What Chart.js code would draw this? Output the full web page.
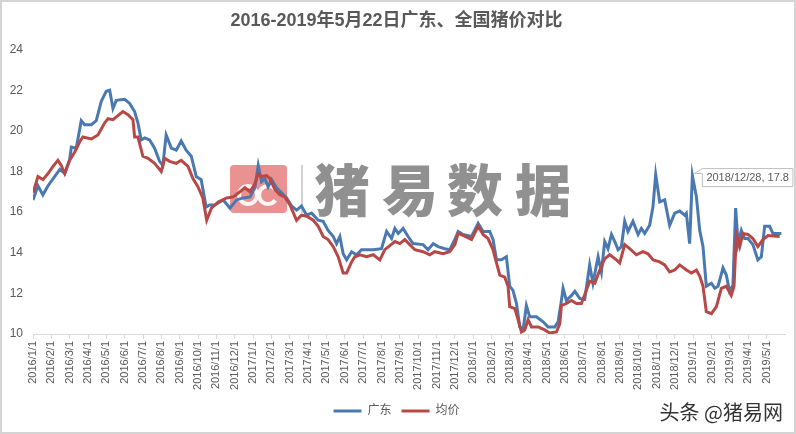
<!DOCTYPE html>
<html>
<head>
<meta charset="utf-8">
<script src="https://cdn.jsdelivr.net/npm/chart.js@4"></script>
<style>
	html, body { margin: 0; padding: 0; background: #ffffff; }
	#wrap { width: 796px; height: 434px; }
</style>
</head>
<body>
<div id="wrap"><canvas id="chart" width="796" height="434"></canvas></div>
<script>
// months counted from 2016/1/1 (0 = 2016/1/1, 12 = 2017/1/1 ...)
const gdMonths = [0.00, 0.27, 0.54, 0.82, 1.18, 1.46, 1.73, 2.00, 2.09, 2.36, 2.63, 2.82, 3.18, 3.45, 3.72, 3.99, 4.18, 4.36, 4.54, 5.00,
	5.27, 5.54, 5.72, 5.90, 6.09, 6.36, 6.63, 6.90, 7.08, 7.26, 7.54, 7.81, 8.08, 8.35, 8.63, 8.90, 9.17, 9.44, 9.63, 9.92,
	10.37, 10.74, 11.10, 11.46, 11.83, 12.10, 12.28, 12.46, 12.64, 12.82, 13.01, 13.28, 13.55, 13.83, 14.10, 14.37, 14.64, 14.92, 15.19, 15.55,
	15.82, 16.09, 16.37, 16.55, 16.73, 16.91, 17.10, 17.37, 17.64, 17.91, 18.55, 19.00, 19.28, 19.55, 19.73, 19.91, 20.18, 20.45, 20.72, 21.27,
	21.54, 21.82, 22.09, 22.45, 22.72, 23.00, 23.18, 23.45, 23.91, 24.27, 24.54, 24.90, 25.08, 25.27, 25.54, 25.81, 25.99, 26.17, 26.36, 26.54,
	26.72, 26.90, 27.08, 27.45, 27.81, 28.08, 28.45, 28.63, 28.81, 28.90, 29.08, 29.36, 29.54, 29.81, 30.08, 30.35, 30.53, 30.81, 30.99, 31.17,
	31.35, 31.54, 31.72, 31.90, 32.08, 32.26, 32.44, 32.71, 32.99, 33.17, 33.35, 33.62, 33.80, 33.95, 34.17, 34.44, 34.71, 34.99, 35.26, 35.53,
	35.62, 35.80, 35.95, 36.17, 36.35, 36.53, 36.71, 36.99, 37.17, 37.35, 37.62, 37.80, 37.98, 38.16, 38.31, 38.44, 38.62, 38.80, 38.98, 39.25,
	39.52, 39.71, 39.89, 40.16, 40.34, 40.80];
const gdPrices = [16.6, 17.3, 16.85, 17.3, 17.75, 18.1, 17.9, 18.6, 19.2, 19.15, 20.5, 20.3, 20.3, 20.5, 21.45, 21.95, 22.0, 21.1, 21.5, 21.55,
	21.35, 20.95, 20.4, 19.55, 19.65, 19.55, 19.15, 18.5, 18.3, 19.8, 19.15, 19.05, 19.5, 19.05, 18.75, 17.75, 17.6, 16.25, 16.35, 16.35,
	16.6, 16.2, 16.6, 16.7, 16.75, 17.2, 18.3, 17.5, 17.65, 17.25, 17.6, 17.2, 16.95, 16.7, 16.3, 16.1, 16.3, 15.85, 15.95, 15.6,
	15.55, 15.1, 14.8, 14.45, 14.8, 13.95, 13.65, 14.05, 13.9, 14.15, 14.15, 14.2, 15.05, 14.7, 15.2, 14.95, 15.2, 14.8, 14.45, 14.4,
	14.15, 14.45, 14.3, 14.2, 14.15, 14.65, 15.05, 14.9, 14.8, 15.45, 15.05, 15.05, 14.65, 13.65, 13.65, 13.8, 12.35, 12.15, 11.5, 10.35,
	10.2, 11.4, 10.85, 10.85, 10.6, 10.35, 10.35, 10.6, 11.65, 12.25, 11.65, 11.9, 12.1, 11.75, 11.7, 13.4, 12.5, 13.8, 13.05, 14.55,
	14.2, 14.9, 14.55, 14.15, 14.3, 15.55, 15.05, 15.55, 14.9, 15.2, 14.95, 15.35, 16.25, 17.85, 16.5, 16.6, 15.35, 15.95, 16.05, 15.85,
	15.95, 14.45, 17.8, 16.75, 15.1, 14.3, 12.35, 12.5, 12.25, 12.35, 13.25, 12.9, 12.1, 12.4, 16.2, 14.45, 15.1, 14.7, 14.7, 14.4,
	13.65, 13.8, 15.3, 15.3, 14.95, 14.95];

const avgMonths = [0.00, 0.27, 0.54, 0.82, 1.09, 1.36, 1.54, 1.73, 2.00, 2.27, 2.54, 2.72, 3.18, 3.54, 3.91, 4.09, 4.36, 4.63, 4.90, 5.18,
	5.45, 5.54, 5.72, 5.99, 6.27, 6.63, 6.99, 7.18, 7.45, 7.81, 8.08, 8.45, 8.72, 8.99, 9.26, 9.47, 9.73, 10.10, 10.56, 10.92,
	11.28, 11.55, 11.83, 12.10, 12.28, 12.46, 12.74, 12.92, 13.19, 13.46, 13.73, 14.01, 14.37, 14.64, 14.92, 15.28, 15.55, 15.82, 16.09, 16.37,
	16.64, 16.91, 17.10, 17.37, 17.55, 17.82, 18.19, 18.55, 18.91, 19.18, 19.46, 19.73, 20.00, 20.27, 20.54, 20.82, 21.27, 21.63, 21.91, 22.36,
	22.72, 23.00, 23.18, 23.45, 23.91, 24.27, 24.54, 24.81, 25.08, 25.27, 25.45, 25.72, 25.90, 25.99, 26.27, 26.45, 26.63, 26.81, 26.99, 27.18,
	27.54, 27.90, 28.17, 28.54, 28.72, 28.81, 29.08, 29.36, 29.63, 29.90, 30.17, 30.35, 30.63, 30.90, 31.17, 31.44, 31.81, 31.99, 32.26, 32.53,
	32.90, 33.26, 33.53, 33.81, 34.17, 34.44, 34.71, 34.99, 35.26, 35.62, 35.90, 36.17, 36.35, 36.53, 36.71, 36.99, 37.26, 37.53, 37.80, 38.07,
	38.22, 38.35, 38.53, 38.71, 38.98, 39.25, 39.52, 39.80, 40.07, 40.71];
const avgPrices = [16.95, 17.75, 17.6, 17.9, 18.25, 18.55, 18.3, 17.9, 18.55, 18.95, 19.45, 19.7, 19.6, 19.8, 20.4, 20.6, 20.55, 20.75, 20.95, 20.8,
	20.55, 19.7, 19.7, 18.75, 18.65, 18.4, 18.0, 18.65, 18.5, 18.4, 18.55, 18.25, 17.65, 17.25, 16.7, 15.6, 16.2, 16.5, 16.7, 16.75,
	17.0, 17.2, 17.0, 17.4, 17.9, 17.75, 17.8, 17.65, 17.1, 16.85, 16.75, 16.35, 15.6, 15.85, 15.8, 15.6, 15.3, 14.8, 14.65, 14.3,
	13.8, 13.0, 13.0, 13.55, 13.8, 13.9, 13.8, 13.9, 13.65, 14.15, 14.35, 14.55, 14.45, 14.65, 14.4, 14.15, 14.05, 13.9, 14.05, 13.95,
	14.05, 14.4, 14.95, 14.85, 14.65, 15.3, 14.9, 14.7, 14.15, 13.5, 12.9, 12.8, 12.35, 11.35, 11.25, 10.7, 10.1, 10.2, 10.7, 10.35,
	10.35, 10.2, 10.05, 10.1, 10.5, 11.4, 11.5, 11.65, 11.5, 11.5, 12.15, 12.6, 12.5, 13.15, 13.7, 13.9, 13.65, 13.5, 14.4, 14.2,
	13.9, 14.05, 13.95, 13.65, 13.55, 13.4, 13.05, 13.15, 13.4, 13.15, 13.0, 13.15, 12.85, 12.35, 11.1, 11.0, 11.35, 12.25, 12.35, 11.9,
	12.35, 14.9, 14.3, 14.95, 14.9, 14.7, 14.3, 14.65, 14.85, 14.8];

const seriesNames = ['广东', '均价'];
const yTicks = [10, 12, 14, 16, 18, 20, 22, 24];
const monthTicks = [];
for (let i = 0; i <= 40; i++)
{
	monthTicks.push(i);
}
const calloutMonth = 35.95;
const calloutValue = 17.8;
const calloutText = '2018/12/28, 17.8';

const blue = '#4a78b0';
const red = '#b84845';
const textGray = '#595959';
const fontFamily = '"Liberation Sans", Arial, "Noto Sans CJK SC", sans-serif';

function toPoints(xs, ys)
{
	return xs.map((x, i) => ({x: x, y: ys[i]}));
}

function monthLabel(value)
{
	const year = 2016 + Math.floor(value / 12);
	const month = value % 12 + 1;
	return year + '/' + month + '/1';
}

// watermark behind the lines, callout box and signature on top
const decorations = {
	id: 'decorations',
	beforeDatasetsDraw(chart) {
		const ctx = chart.ctx;
		ctx.save();
		ctx.fillStyle = 'rgba(226, 104, 104, 0.72)';
		ctx.beginPath();
		ctx.roundRect(230, 165, 57, 48, 4);
		ctx.fill();
		ctx.strokeStyle = 'rgba(255, 255, 255, 0.9)';
		ctx.lineWidth = 4;
		ctx.beginPath();
		ctx.arc(248, 195, 9, 0, Math.PI * 2);
		ctx.stroke();
		ctx.beginPath();
		ctx.arc(268, 195, 9, Math.PI * 0.2, Math.PI * 1.8);
		ctx.stroke();
		ctx.strokeStyle = 'rgba(150, 150, 150, 0.6)';
		ctx.lineWidth = 1.5;
		ctx.beginPath();
		ctx.moveTo(302, 165);
		ctx.lineTo(302, 213);
		ctx.stroke();
		ctx.fillStyle = 'rgba(125, 125, 125, 0.85)';
		ctx.font = '900 56px "Noto Sans CJK SC", sans-serif';
		ctx.textAlign = 'center';
		ctx.textBaseline = 'middle';
		const chars = ['猪', '易', '数', '据'];
		const centers = [342, 410, 475, 543];
		chars.forEach((c, i) => ctx.fillText(c, centers[i], 190));
		ctx.restore();
	},
	afterDraw(chart) {
		const ctx = chart.ctx;
		const px = chart.scales.x.getPixelForValue(calloutMonth);
		const py = chart.scales.y.getPixelForValue(calloutValue);
		ctx.save();
		ctx.font = '11px ' + fontFamily;
		const w = ctx.measureText(calloutText).width + 8;
		const left = px + 10;
		const top = py - 7;
		ctx.fillStyle = '#ffffff';
		ctx.strokeStyle = '#bfbfbf';
		ctx.lineWidth = 1;
		ctx.beginPath();
		ctx.moveTo(left, top);
		ctx.lineTo(px + 2, py - 2);
		ctx.lineTo(left, top + 5);
		ctx.lineTo(left, top + 18);
		ctx.lineTo(left + w, top + 18);
		ctx.lineTo(left + w, top);
		ctx.closePath();
		ctx.fill();
		ctx.stroke();
		ctx.fillStyle = textGray;
		ctx.textBaseline = 'middle';
		ctx.fillText(calloutText, left + 4, top + 9.5);

		ctx.fillStyle = '#333333';
		ctx.font = '20px "Noto Sans CJK SC", sans-serif';
		ctx.textAlign = 'right';
		ctx.fillText('头条 @猪易网', 783, 412);

		ctx.strokeStyle = '#d4d4d4';
		ctx.lineWidth = 2;
		ctx.strokeRect(1, 1, 794, 432);
		ctx.restore();
	}
};

new Chart(document.getElementById('chart'), {
	type: 'line',
	data: {
		datasets: [{
			label: seriesNames[0],
			data: toPoints(gdMonths, gdPrices),
			borderColor: blue,
			backgroundColor: blue,
			borderWidth: 3,
			pointRadius: 0,
			tension: 0,
			order: 2,
		}, {
			label: seriesNames[1],
			data: toPoints(avgMonths, avgPrices),
			borderColor: red,
			backgroundColor: red,
			borderWidth: 3,
			pointRadius: 0,
			tension: 0,
			order: 1,
		}]
	},
	options: {
		responsive: false,
		animation: false,
		layout: {
			padding: {left: 8, right: 11, top: 0, bottom: 7}
		},
		plugins: {
			title: {
				display: true,
				text: '2016-2019年5月22日广东、全国猪价对比',
				color: textGray,
				font: {size: 18, weight: 'bold', family: '"Liberation Sans Narrow", "Liberation Sans", "Noto Sans CJK SC", sans-serif'},
				padding: {top: 10, bottom: 18},
			},
			legend: {
				position: 'bottom',
				labels: {
					usePointStyle: true,
					pointStyle: 'line',
					pointStyleWidth: 28,
					color: textGray,
					font: {size: 12, family: fontFamily},
					padding: 10,
					// keep 广东 first although 均价 is drawn on top
					sort: (a, b) => a.datasetIndex - b.datasetIndex,
				}
			},
			tooltip: {enabled: false},
		},
		scales: {
			x: {
				type: 'linear',
				min: 0,
				max: 41,
				afterBuildTicks: (scale) => {
					scale.ticks = monthTicks.map(v => ({value: v}));
				},
				afterFit: (scale) => {
					scale.height = 61;
				},
				grid: {display: true, drawOnChartArea: false, drawTicks: true, tickLength: 5, color: '#d9d9d9'},
				border: {display: true, color: '#d9d9d9'},
				ticks: {
					autoSkip: false,
					maxRotation: 90,
					minRotation: 90,
					padding: 2,
					color: textGray,
					font: {size: 11, family: fontFamily},
					callback: (value) => monthLabel(value),
				}
			},
			y: {
				min: 10,
				max: 24,
				afterBuildTicks: (scale) => {
					scale.ticks = yTicks.map(v => ({value: v}));
				},
				afterFit: (scale) => {
					scale.width = 25;
				},
				grid: {display: false, drawTicks: false},
				border: {display: false},
				ticks: {
					padding: 10,
					color: textGray,
					font: {size: 12, family: fontFamily},
				}
			}
		}
	},
	plugins: [decorations]
});
</script>
</body>
</html>
